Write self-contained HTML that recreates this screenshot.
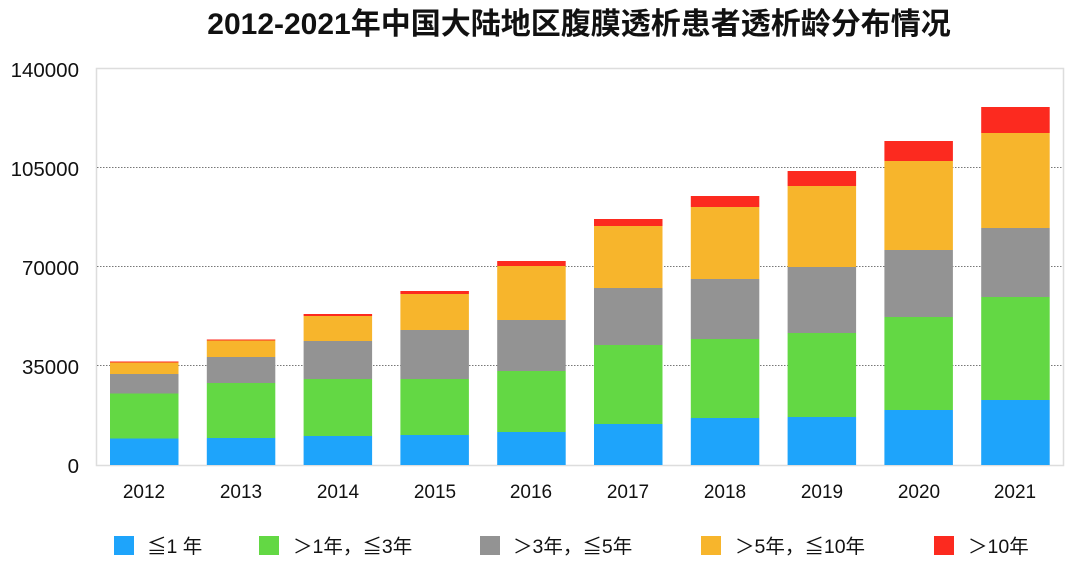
<!DOCTYPE html>
<html><head><meta charset="utf-8"><style>
body{margin:0;background:#fff;}
svg{display:block;font-family:"Liberation Sans","Noto Sans CJK SC",sans-serif;}
.b{fill:#1ea4fb}.g{fill:#63d844}.k{fill:#939393}.y{fill:#f7b52c}.r{fill:#fc2a1f}
</style></head><body>
<svg width="1080" height="585" viewBox="0 0 1080 585">
<text x="579" y="34" text-anchor="middle" font-size="30" font-weight="bold" fill="#111">2012-2021年中国大陆地区腹膜透析患者透析龄分布情况</text>
<rect x="96.5" y="68.5" width="967" height="397" fill="none" stroke="#ddd" stroke-width="1.5"/>
<g stroke="#777" stroke-dasharray="1.5,1.5" stroke-width="1">
<line x1="97" y1="167.5" x2="1063" y2="167.5"/>
<line x1="97" y1="266.5" x2="1063" y2="266.5"/>
<line x1="97" y1="365.5" x2="1063" y2="365.5"/>
</g>
<g font-size="20.5" fill="#111" text-anchor="end">
<text x="79" y="77">140000</text>
<text x="79" y="176">105000</text>
<text x="79" y="275">70000</text>
<text x="79" y="374">35000</text>
<text x="79" y="473">0</text>
</g>
<g>
<g transform="translate(110,0)"><rect class="b" y="438.5" width="68.5" height="26.5"/><rect class="g" y="393.5" width="68.5" height="45"/><rect class="k" y="374" width="68.5" height="19.5"/><rect class="y" y="362.5" width="68.5" height="11.5"/><rect class="r" y="361.5" width="68.5" height="1"/></g>
<g transform="translate(206.8,0)"><rect class="b" y="438" width="68.5" height="27"/><rect class="g" y="383" width="68.5" height="55"/><rect class="k" y="357" width="68.5" height="26"/><rect class="y" y="340.5" width="68.5" height="16.5"/><rect class="r" y="339.5" width="68.5" height="1"/></g>
<g transform="translate(303.6,0)"><rect class="b" y="436" width="68.5" height="29"/><rect class="g" y="379" width="68.5" height="57"/><rect class="k" y="341" width="68.5" height="38"/><rect class="y" y="316" width="68.5" height="25"/><rect class="r" y="314" width="68.5" height="2"/></g>
<g transform="translate(400.4,0)"><rect class="b" y="435" width="68.5" height="30"/><rect class="g" y="379" width="68.5" height="56"/><rect class="k" y="330" width="68.5" height="49"/><rect class="y" y="294" width="68.5" height="36"/><rect class="r" y="291" width="68.5" height="3"/></g>
<g transform="translate(497.2,0)"><rect class="b" y="432" width="68.5" height="33"/><rect class="g" y="371" width="68.5" height="61"/><rect class="k" y="320" width="68.5" height="51"/><rect class="y" y="266" width="68.5" height="54"/><rect class="r" y="261" width="68.5" height="5"/></g>
<g transform="translate(594,0)"><rect class="b" y="424" width="68.5" height="41"/><rect class="g" y="345" width="68.5" height="79"/><rect class="k" y="288" width="68.5" height="57"/><rect class="y" y="226" width="68.5" height="62"/><rect class="r" y="219" width="68.5" height="7"/></g>
<g transform="translate(690.8,0)"><rect class="b" y="418" width="68.5" height="47"/><rect class="g" y="339" width="68.5" height="79"/><rect class="k" y="279" width="68.5" height="60"/><rect class="y" y="207" width="68.5" height="72"/><rect class="r" y="196" width="68.5" height="11"/></g>
<g transform="translate(787.6,0)"><rect class="b" y="417" width="68.5" height="48"/><rect class="g" y="333" width="68.5" height="84"/><rect class="k" y="267" width="68.5" height="66"/><rect class="y" y="186" width="68.5" height="81"/><rect class="r" y="171" width="68.5" height="15"/></g>
<g transform="translate(884.4,0)"><rect class="b" y="410" width="68.5" height="55"/><rect class="g" y="317" width="68.5" height="93"/><rect class="k" y="250" width="68.5" height="67"/><rect class="y" y="161" width="68.5" height="89"/><rect class="r" y="141" width="68.5" height="20"/></g>
<g transform="translate(981.2,0)"><rect class="b" y="400" width="68.5" height="65"/><rect class="g" y="297" width="68.5" height="103"/><rect class="k" y="228" width="68.5" height="69"/><rect class="y" y="133" width="68.5" height="95"/><rect class="r" y="107" width="68.5" height="26"/></g>
</g>
<g font-size="19" fill="#111" text-anchor="middle">
<text x="144" y="498">2012</text><text x="241" y="498">2013</text><text x="338" y="498">2014</text><text x="435" y="498">2015</text><text x="531" y="498">2016</text><text x="628" y="498">2017</text><text x="725" y="498">2018</text><text x="822" y="498">2019</text><text x="919" y="498">2020</text><text x="1015" y="498">2021</text>
</g>
<g font-size="19.5" fill="#111">
<rect x="114" y="536" width="20" height="19" class="b"/><text x="147" y="553">≦1 年</text>
<rect x="259" y="536" width="20" height="19" class="g"/><text x="293" y="553">＞1年，≦3年</text>
<rect x="480" y="536" width="20" height="19" class="k"/><text x="513" y="553">＞3年，≦5年</text>
<rect x="701" y="536" width="20" height="19" class="y"/><text x="735" y="553">＞5年，≦10年</text>
<rect x="934" y="536" width="20" height="19" class="r"/><text x="968" y="553">＞10年</text>
</g>
</svg>
</body></html>
